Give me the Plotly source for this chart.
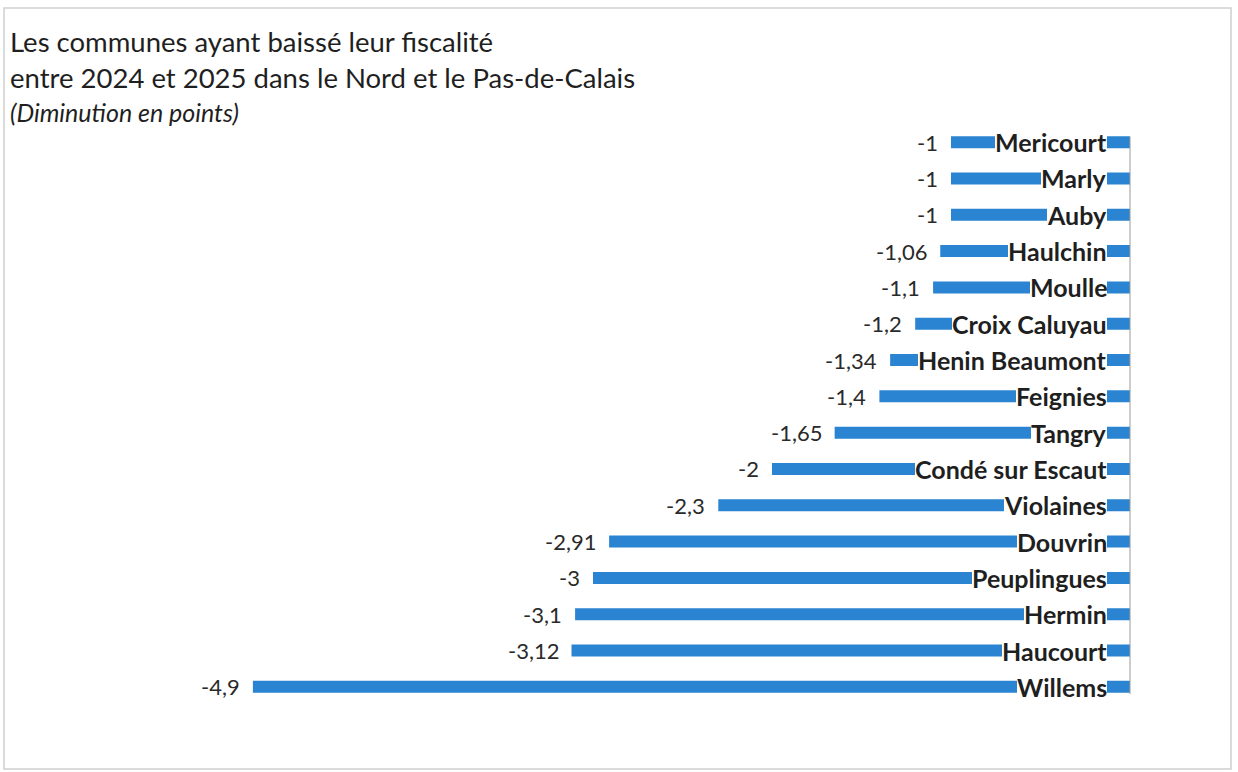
import plotly.graph_objects as go

communes = ["Mericourt", "Marly", "Auby", "Haulchin", "Moulle", "Croix Caluyau",
            "Henin Beaumont", "Feignies", "Tangry", "Condé sur Escaut", "Violaines",
            "Douvrin", "Peuplingues", "Hermin", "Haucourt", "Willems"]
values = [-1, -1, -1, -1.06, -1.1, -1.2, -1.34, -1.4, -1.65, -2, -2.3,
          -2.91, -3, -3.1, -3.12, -4.9]
value_labels = ["-1", "-1", "-1", "-1,06", "-1,1", "-1,2", "-1,34", "-1,4", "-1,65",
                "-2", "-2,3", "-2,91", "-3", "-3,1", "-3,12", "-4,9"]

title_lines = ["Les communes ayant baissé leur fiscalité",
               "entre 2024 et 2025 dans le Nord et le Pas-de-Calais"]
subtitle = "(Diminution en points)"

W, H = 1238, 772
T, B = 124, 67
PX_PER_UNIT = 179.0
ZERO_PX = 1130.0
x_min = -ZERO_PX / PX_PER_UNIT
x_max = (W - ZERO_PX) / PX_PER_UNIT
plot_h = H - T - B

def py(pix):
    return (H - B - pix) / plot_h

def px(pix):
    return pix / W

BAR = "#2A84D2"
TXT = "#1f1f1f"

fig = go.Figure(go.Bar(
    y=communes, x=values, orientation="h",
    marker=dict(color=BAR, line=dict(width=0)),
    hoverinfo="skip",
))

ann = []
for c, v, lab in zip(communes, values, value_labels):
    ann.append(dict(x=v, y=c, xref="x", yref="y", text=lab, showarrow=False,
                    xanchor="right", yanchor="middle", xshift=-11,
                    font=dict(family="Lato", size=22, color="#2a2a2a")))
    ann.append(dict(x=0, y=c, xref="x", yref="y", text="<b>%s</b>" % c, showarrow=False,
                    xanchor="right", yanchor="middle", xshift=-23,
                    bgcolor="white", borderpad=0, borderwidth=0,
                    font=dict(family="Lato", size=25, color=TXT)))

for i, line in enumerate(title_lines):
    ann.append(dict(x=px(8), y=py(42 + 35 * i), xref="paper", yref="paper", text=line,
                    showarrow=False, xanchor="left", yanchor="middle",
                    font=dict(family="Lato", size=27.5, color=TXT)))
ann.append(dict(x=px(8), y=py(112), xref="paper", yref="paper", text="<i>%s</i>" % subtitle,
                showarrow=False, xanchor="left", yanchor="middle",
                font=dict(family="Lato", size=25, color=TXT)))

shapes = [
    dict(type="line", xref="x", yref="y", x0=0, x1=0, y0=-0.15, y1=len(communes) - 0.8,
         line=dict(color="#9a9a9a", width=1)),
    dict(type="rect", xref="paper", yref="paper", x0=px(4), x1=px(1231), y0=py(8), y1=py(769),
         line=dict(color="#cfcfcf", width=1.5), fillcolor="rgba(0,0,0,0)"),
]

fig.update_layout(
    width=W, height=H,
    margin=dict(l=0, r=0, t=T, b=B),
    paper_bgcolor="white", plot_bgcolor="white",
    bargap=0.67,
    showlegend=False,
    xaxis=dict(range=[x_min, x_max], visible=False, fixedrange=True),
    yaxis=dict(type="category", autorange="reversed", visible=False, fixedrange=True),
    annotations=ann,
    shapes=shapes,
)

fig.write_html("out.html")
